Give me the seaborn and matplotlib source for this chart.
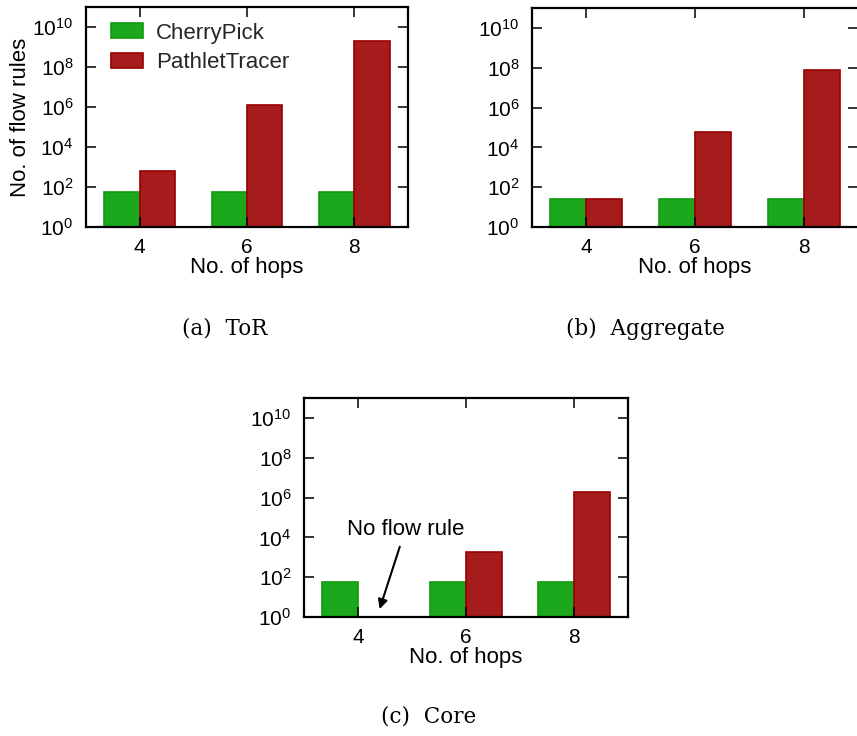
import numpy as np
import pandas as pd
import matplotlib
matplotlib.use("Agg")
import matplotlib.pyplot as plt
import seaborn as sns
from matplotlib.patches import Patch

sns.set_theme(style="white")
plt.rcParams['font.family'] = ['Liberation Sans', 'DejaVu Sans']
plt.rcParams['mathtext.fontset'] = 'custom'
plt.rcParams['mathtext.rm'] = 'Liberation Sans'
plt.rcParams['mathtext.it'] = 'Liberation Sans'

hops = ["4", "6", "8"]
methods = ["CherryPick", "PathletTracer"]
tor_cherry = [55, 55, 55]
tor_pathlet = [640, 1.3e6, 1.9e9]
agg_cherry = [27, 27, 27]
agg_pathlet = [27, 5.6e4, 7.8e7]
core_cherry = [55, 55, 55]
core_pathlet = [np.nan, 1800, 2.0e6]
captions = ["(a)  ToR", "(b)  Aggregate", "(c)  Core"]

fill_colors = {"CherryPick": "#1ca81c", "PathletTracer": "#a61c1c"}
edge_colors = {"CherryPick": "#119a11", "PathletTracer": "#990000"}

def make_df(cherry, pathlet):
    rows = []
    for h, c, p in zip(hops, cherry, pathlet):
        rows.append({"hops": h, "method": methods[0], "rules": c})
        rows.append({"hops": h, "method": methods[1], "rules": p})
    return pd.DataFrame(rows)

W, H = 857, 736
fig = plt.figure(figsize=(W / 100, H / 100), dpi=100)

def px_axes(l, r, t, b):
    return fig.add_axes([l / W, 1 - b / H, (r - l) / W, (b - t) / H])

ax_a = px_axes(86, 408, 7, 227)
ax_b = px_axes(532, 858, 8, 227)
ax_c = px_axes(304, 628, 398, 617)

panels = [(ax_a, tor_cherry, tor_pathlet), (ax_b, agg_cherry, agg_pathlet),
          (ax_c, core_cherry, core_pathlet)]

for ax, c, p in panels:
    df = make_df(c, p)
    sns.barplot(data=df, x="hops", y="rules", hue="method", hue_order=methods,
                order=hops, palette=fill_colors, width=0.66, gap=0, ax=ax,
                legend=False, errorbar=None, saturation=1)
    for cont, m in zip(ax.containers, methods):
        for bar in cont:
            bar.set_edgecolor(edge_colors[m])
            bar.set_linewidth(1.2)
    ax.set_yscale("log")
    ax.set_ylim(1, 1e11)
    ax.set_xlim(-0.5, 2.5)
    ax.set_yticks([1, 1e2, 1e4, 1e6, 1e8, 1e10])
    ax.yaxis.set_minor_locator(matplotlib.ticker.NullLocator())
    ax.set_axisbelow(False)
    ax.tick_params(axis="both", which="major", direction="in", length=7.5, width=1.1,
                   top=True, right=True, bottom=True, left=True, labelsize=15,
                   color="black", labelcolor="black")
    ax.tick_params(axis="y", pad=9)
    ax.tick_params(axis="x", pad=8)
    for s in ax.spines.values():
        s.set_linewidth(1.6)
        s.set_color("black")
        s.set_zorder(5)
    ax.set_xlabel("No. of hops", fontsize=16, labelpad=0, color="black")
    ax.set_ylabel("")

ax_a.set_ylabel("No. of flow rules", fontsize=16, labelpad=1, color="black")

handles = [Patch(facecolor=fill_colors[m], edgecolor=edge_colors[m], linewidth=1.2)
           for m in methods]
ax_a.legend(handles, methods, loc="upper left", frameon=False, fontsize=16,
            handlelength=1.45, handleheight=0.65, borderaxespad=0.3,
            bbox_to_anchor=(0.03, 1.0), labelspacing=0.4, handletextpad=0.55)

ax_c.annotate("No flow rule", xy=(0.2, 2.5), xytext=(0.44, 10 ** 4.42),
              ha="center", va="center", fontsize=16, color="black",
              arrowprops=dict(arrowstyle="-|>", color="black", lw=1.5,
                              shrinkA=3, shrinkB=0, mutation_scale=14))

cap_font = dict(family=["DejaVu Serif"], fontsize=15.5, color="black", ha="center", va="center")
fig.text(225 / W, 1 - 329 / H, captions[0], **cap_font)
fig.text(645 / W, 1 - 329 / H, captions[1], **cap_font)
fig.text(429 / W, 1 - 717 / H, captions[2], **cap_font)

fig.savefig("out.png", dpi=100)
